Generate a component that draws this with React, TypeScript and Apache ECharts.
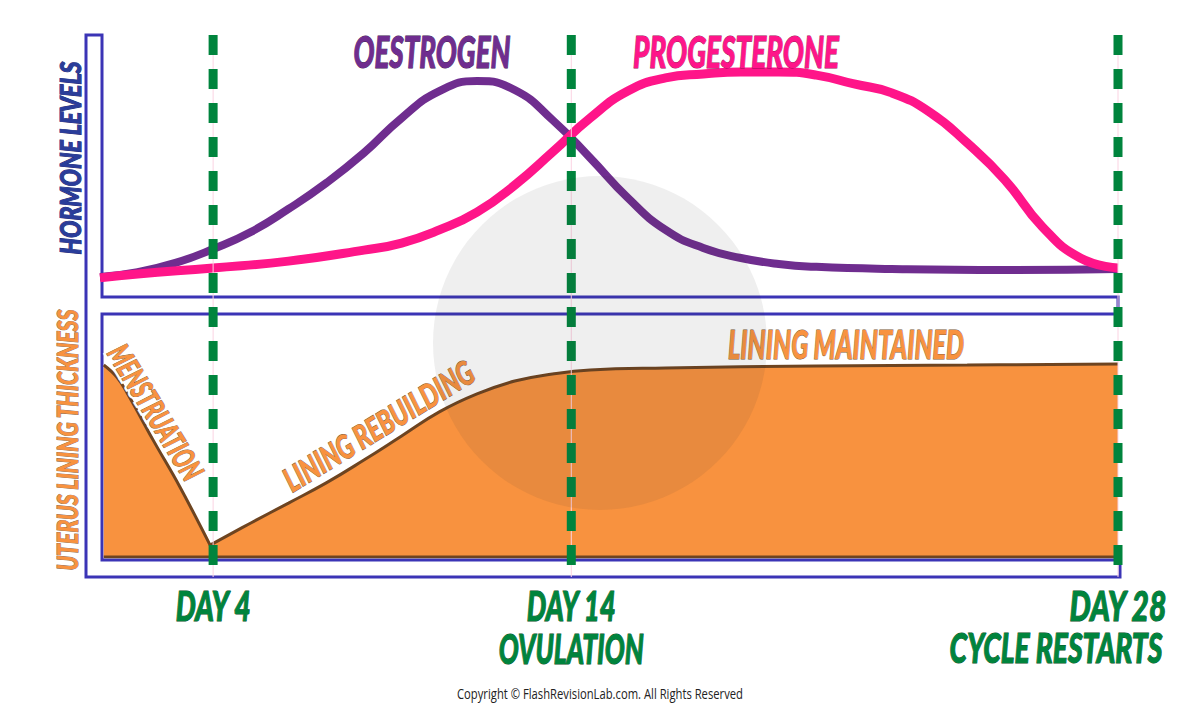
import React, { useEffect, useRef } from "react";
import * as echarts from "echarts";

// ---- Data (x = day of cycle, y = relative level 0-100) ----
const oestrogenDays = [1, 2, 3, 4, 5, 6, 7, 8, 9, 10, 11, 12, 13, 14, 15, 16, 17, 18, 19, 20, 22, 25, 28];
const oestrogenLevels = [7.6, 9.5, 13.0, 18.3, 24.8, 33.6, 43.5, 55.0, 68.3, 78.6, 82.4, 79.0, 67.6, 53.1, 37.8, 25.6, 18.7, 14.9, 12.6, 11.5, 10.7, 10.3, 10.7];

const progesteroneDays = [1, 2, 4, 6, 8, 9, 10, 11, 12, 13, 14, 15, 16, 17, 18, 19, 20, 21, 22, 23, 24, 25, 26, 27, 28];
const progesteroneLevels = [7.3, 8.8, 11.1, 13.7, 17.9, 20.6, 25.6, 32.4, 42.7, 55.3, 68.3, 78.6, 83.6, 85.1, 85.9, 85.9, 84.7, 81.3, 77.9, 70.6, 58.8, 44.7, 26.7, 14.9, 11.1];

const menstruationDays = [1.1, 1.45, 1.72, 2.41, 3.12, 3.92];
const menstruationThickness = [79.0, 74.0, 67.5, 48.1, 28.8, 4.9];

const rebuildingDays = [3.92, 5, 6, 7, 8, 9, 10, 11, 12, 13, 14, 16, 20, 24, 28];
const rebuildingThickness = [4.9, 14.0, 22.2, 30.5, 39.9, 49.8, 59.7, 67.1, 72.4, 75.3, 77.0, 77.8, 78.6, 79.0, 79.4];

const liningBaseDays = [1.1, 28];
const liningBase = [0, 0];

const markerDays = [4, 13.5, 28];
const markerLabels = ["DAY 4", "DAY 14", "DAY 28"];
const markerSubLabels = ["", "OVULATION", "CYCLE RESTARTS"];
const hormoneNames = ["OESTROGEN", "PROGESTERONE"];
const phaseLabels = ["MENSTRUATION", "LINING REBUILDING", "LINING MAINTAINED"];
const axisTitles = ["HORMONE LEVELS", "UTERUS LINING THICKNESS"];
const copyrightText = "Copyright \u00A9 FlashRevisionLab.com. All Rights Reserved";

// ---- Styles ----
const PURPLE = "#6f2d8f";
const PINK = "#ff1589";
const ORANGE = "#f8923f";
const BROWN = "#6e4420";
const GREEN = "#00843d";
const FRAME = "#3b34b6";
const NAVY = "#2a3d9a";

const zip = (xs: number[], ys: number[]) => xs.map((x, i) => [x, ys[i]]);

let ctx: CanvasRenderingContext2D | null = null;
function measure(text: string, font: string): number {
  if (!ctx) ctx = document.createElement("canvas").getContext("2d");
  ctx!.font = font;
  return ctx!.measureText(text).width;
}

function label(
  text: string,
  cx: number,
  cy: number,
  len: number,
  size: number,
  rot: number,
  fill: string,
  stroke: string | null,
  opts: any = {}
) {
  const family = opts.family ?? "Lato";
  const weight = opts.weight ?? 900;
  const fstyle = opts.fstyle ?? "italic";
  const w = measure(text, `${fstyle} ${weight} ${size}px ${family}`);
  return {
    type: "text",
    x: cx,
    y: cy,
    rotation: rot,
    scaleX: len / w,
    z: opts.z ?? 15,
    silent: true,
    style: {
      text,
      fill,
      stroke: stroke ?? undefined,
      lineWidth: stroke ? opts.lw ?? 1 : 0,
      fontSize: size,
      fontFamily: family,
      fontWeight: weight,
      fontStyle: fstyle,
      align: "center",
      verticalAlign: "middle",
    },
  };
}

function lineSeries(name: string, grid: number, xs: number[], ys: number[], color: string, width: number, z: number, smooth: number, area = false) {
  return {
    name,
    type: "line",
    xAxisIndex: grid,
    yAxisIndex: grid,
    data: zip(xs, ys),
    smooth,
    showSymbol: false,
    silent: true,
    z,
    lineStyle: { color, width },
    areaStyle: area ? { color: ORANGE, opacity: 1 } : undefined,
  };
}

function buildOption() {
  return {
    animation: false,
    backgroundColor: "#ffffff",
    grid: [
      { left: 100, right: 82, top: 35, height: 262 },
      { left: 100, right: 82, top: 314, height: 243 },
    ],
    xAxis: [
      { gridIndex: 0, type: "value", min: 1, max: 28, show: false },
      { gridIndex: 1, type: "value", min: 1, max: 28, show: false },
    ],
    yAxis: [
      { gridIndex: 0, type: "value", min: 0, max: 100, show: false },
      { gridIndex: 1, type: "value", min: 0, max: 100, show: false },
    ],
    series: [
      lineSeries(hormoneNames[0], 0, oestrogenDays, oestrogenLevels, PURPLE, 8, 3, 0.5),
      lineSeries(hormoneNames[1], 0, progesteroneDays, progesteroneLevels, PINK, 9, 4, 0.5),
      lineSeries("menstruation", 1, menstruationDays, menstruationThickness, BROWN, 3, 3, 0.4, true),
      lineSeries("rebuilding", 1, rebuildingDays, rebuildingThickness, BROWN, 3, 3, 0.45, true),
      lineSeries("base", 1, liningBaseDays, liningBase, BROWN, 3, 4, 0),
    ],
  };
}

function buildGraphic(xs: number[]) {
  const els: any[] = [];
  // frame (E-shaped outline)
  els.push({
    type: "polygon",
    z: 0,
    silent: true,
    shape: {
      points: [
        [86, 35], [86, 577], [1120, 577], [1120, 560], [102, 560], [102, 314],
        [1118, 314], [1118, 297], [102, 297], [102, 35],
      ],
    },
    style: { fill: "none", stroke: FRAME, lineWidth: 3 },
  });
  // marker lines
  xs.forEach((x) => {
    els.push({
      type: "line",
      z: 9,
      silent: true,
      shape: { x1: x, y1: 35, x2: x, y2: 577 },
      style: { stroke: "#fbd3e2", lineWidth: 1 },
    });
    els.push({
      type: "line",
      z: 10,
      silent: true,
      shape: { x1: x, y1: 35, x2: x, y2: 577 },
      style: { stroke: GREEN, lineWidth: 9, lineDash: [20, 14] },
    });
  });
  // day labels
  const dayLens = [76, 90, 98];
  const subLens = [0, 145, 213];
  const subOffsets = [0, 0, -62];
  xs.forEach((x, i) => {
    els.push(label(markerLabels[i], x, 605, dayLens[i], 42, 0, GREEN, "#0a4f25"));
    if (markerSubLabels[i]) {
      els.push(label(markerSubLabels[i], x + subOffsets[i], 647, subLens[i], 42, 0, GREEN, "#0a4f25"));
    }
  });
  // hormone names
  els.push(label(hormoneNames[0], 432, 51, 157, 44, 0, PURPLE, "#3a1550"));
  els.push(label(hormoneNames[1], 736, 51, 206, 44, 0, PINK, "#9a0d55"));
  // axis titles
  els.push(label(axisTitles[0], 70, 158, 193, 28, Math.PI / 2, NAVY, "#1a2570"));
  els.push(label(axisTitles[1], 67, 440, 262, 28, Math.PI / 2, ORANGE, "#8a6a50"));
  // phase labels (with white halo)
  const menRot = (-58.5 * Math.PI) / 180;
  const rebRot = (31.5 * Math.PI) / 180;
  els.push(label(phaseLabels[0], 156, 412, 152, 31, menRot, "#fff", "#fff", { z: 14, lw: 6 }));
  els.push(label(phaseLabels[0], 156, 412, 152, 31, menRot, ORANGE, "#7a5a3a"));
  els.push(label(phaseLabels[1], 378, 425, 217, 33, rebRot, "#fff", "#fff", { z: 14, lw: 6 }));
  els.push(label(phaseLabels[1], 378, 425, 217, 33, rebRot, ORANGE, "#7a5a3a"));
  els.push(label(phaseLabels[2], 846, 344, 236, 39, 0, ORANGE, "#7a5a3a"));
  // watermark circle
  els.push({
    type: "circle",
    z: 20,
    silent: true,
    shape: { cx: 600, cy: 343, r: 167 },
    style: { fill: "rgba(50,50,50,0.08)" },
  });
  // copyright
  els.push(label(copyrightText, 600, 693, 286, 14, 0, "#222", null, { family: "Open Sans", weight: 400, fstyle: "normal", z: 21 }));
  return els;
}

export default function App() {
  const ref = useRef<HTMLDivElement>(null);
  useEffect(() => {
    document.body.style.margin = "0";
    const chart = echarts.init(ref.current!, null, { renderer: "svg" });
    chart.setOption(buildOption() as any);
    const xs = markerDays.map((d) => chart.convertToPixel({ xAxisIndex: 0 }, d) as number);
    chart.setOption({ graphic: buildGraphic(xs) } as any);
    return () => chart.dispose();
  }, []);
  return <div ref={ref} style={{ width: 1200, height: 705 }} />;
}
